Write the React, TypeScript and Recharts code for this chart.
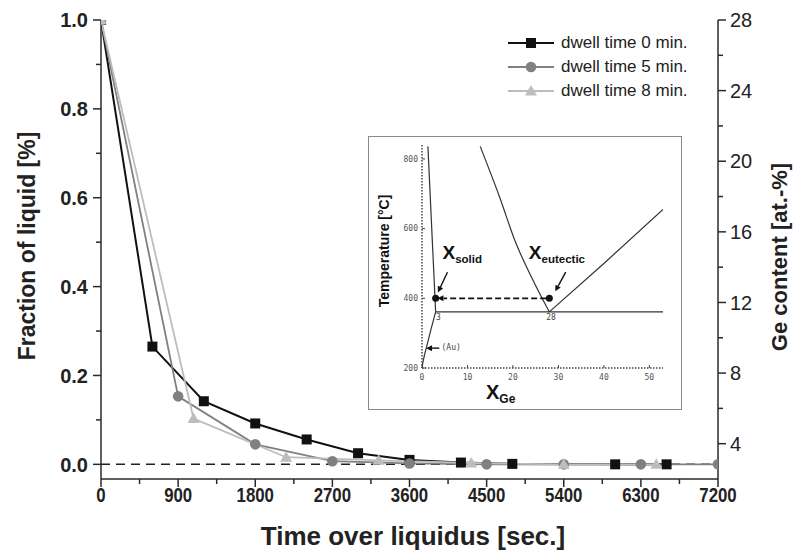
import React from "react";
import {
  LineChart, Line, XAxis, YAxis, ReferenceLine, ReferenceDot, Legend,
} from "recharts";

// main chart: fraction of liquid vs time over liquidus
const times0 = [0, 600, 1200, 1800, 2400, 3000, 3600, 4200, 4800, 6000, 6600];
const frac0 = [1.0, 0.265, 0.142, 0.092, 0.056, 0.025, 0.01, 0.004, 0.001, 0.0, 0.0];
const times5 = [0, 900, 1800, 2700, 3600, 4500, 5400, 6300, 7200];
const frac5 = [1.0, 0.153, 0.045, 0.007, 0.002, 0.0, 0.0, 0.0, 0.0];
const times8 = [0, 1080, 2160, 3240, 4320, 5400, 6480];
const frac8 = [1.0, 0.103, 0.016, 0.009, 0.003, 0.0, 0.0];

const xTicks = [0, 450, 900, 1350, 1800, 2250, 2700, 3150, 3600, 4050, 4500, 4950, 5400, 5850, 6300, 6750, 7200];
const leftTicks = [0, 0.1, 0.2, 0.3, 0.4, 0.5, 0.6, 0.7, 0.8, 0.9, 1.0];
const rightTicks = [4, 6, 8, 10, 12, 14, 16, 18, 20, 22, 24, 26, 28];

// inset: Au-Ge phase diagram (at.% Ge, temperature °C)
const auLiqX = [1.3, 3];
const auLiqT = [836, 361];
const solvusX = [0, 0.2, 0.5, 1, 2, 3];
const solvusT = [200, 216, 235, 260, 312, 361];
const auSideLiqX = [12.8, 17, 20.6, 24.3, 28];
const auSideLiqT = [836, 693, 560, 455, 361];
const geLiqX = [28, 40, 53];
const geLiqT = [361, 500, 655];
const eutecticX = [3, 53];
const eutecticT = [361, 361];
const insetXTicks = [0, 10, 20, 30, 40, 50];
const insetYTicks = [200, 400, 600, 800];

const SANS = '"Liberation Sans", Arial, sans-serif';
const MONO = '"DejaVu Sans Mono", monospace';
const AXIS = "#2a2a2a";

const rows = (xs: number[], ys: number[]) => xs.map((x, i) => ({ x, y: ys[i] }));

const SERIES = [
  { name: "dwell time 0 min.", color: "#111111", shape: "square", width: 2, data: rows(times0, frac0) },
  { name: "dwell time 5 min.", color: "#808080", shape: "circle", width: 1.8, data: rows(times5, frac5) },
  { name: "dwell time 8 min.", color: "#bdbdbd", shape: "triangle", width: 1.8, data: rows(times8, frac8) },
];

const Marker = ({ shape, cx, cy, color }: any) => {
  if (cx == null || cy == null) return null;
  if (shape === "square") return <rect x={cx - 5} y={cy - 5} width={10} height={10} fill={color} />;
  if (shape === "circle") return <circle cx={cx} cy={cy} r={5.3} fill={color} />;
  return <polygon points={`${cx},${cy - 6} ${cx + 6},${cy + 4.5} ${cx - 6},${cy + 4.5}`} fill={color} />;
};

const BottomTick = ({ x, y, payload }: any) => {
  const major = payload.value % 900 === 0;
  return (
    <g>
      <line x1={x} y1={y} x2={x} y2={y + (major ? 8 : 5)} stroke={AXIS} strokeWidth={1.5} />
      {major && (
        <text transform={`translate(${x} ${y + 23}) scale(0.8 1)`} textAnchor="middle" fontFamily={SANS}
          fontWeight="bold" fontSize={21} fill="#222">
          {payload.value}
        </text>
      )}
    </g>
  );
};

const TopTick = ({ x, y, payload }: any) => {
  const major = payload.value % 900 === 0;
  return <line x1={x} y1={y} x2={x} y2={y + (major ? 8 : 5)} stroke={AXIS} strokeWidth={1.5} />;
};

const LeftTick = ({ x, y, payload }: any) => {
  const major = Math.round(payload.value * 10) % 2 === 0;
  return (
    <g>
      <line x1={x - (major ? 8 : 5)} y1={y} x2={x} y2={y} stroke={AXIS} strokeWidth={1.5} />
      {major && (
        <text x={x - 13} y={y} dy="0.36em" textAnchor="end" fontFamily={SANS} fontWeight="bold" fontSize={20} fill="#222">
          {payload.value.toFixed(1)}
        </text>
      )}
    </g>
  );
};

const RightTick = ({ x, y, payload }: any) => {
  const major = payload.value % 4 === 0;
  return (
    <g>
      <line x1={x} y1={y} x2={x + (major ? 8 : 5)} y2={y} stroke={AXIS} strokeWidth={1.5} />
      {major && (
        <text x={x + 12} y={y} dy="0.36em" textAnchor="start" fontFamily={SANS} fontSize={20} fill="#222">
          {payload.value}
        </text>
      )}
    </g>
  );
};

const renderLegend = () => (
  <div style={{ fontFamily: SANS, fontSize: 17, color: "#222" }}>
    {SERIES.map((s) => (
      <div key={s.name} style={{ display: "flex", alignItems: "center", height: 24 }}>
        <svg width={52} height={20} style={{ marginRight: 3 }}>
          <line x1={2} y1={10} x2={48} y2={10} stroke={s.color} strokeWidth={s.width} />
          <Marker shape={s.shape} cx={25} cy={10} color={s.color} />
        </svg>
        <span>{s.name}</span>
      </div>
    ))}
  </div>
);

// inset ticks
const InsetBottomTick = ({ x, y, payload }: any) => (
  <g>
    <line x1={x} y1={y} x2={x} y2={y - 3} stroke="#444" strokeWidth={1} />
    <text x={x} y={y + 12} textAnchor="middle" fontFamily={MONO} fontSize={8} fill="#555">
      {payload.value}
    </text>
  </g>
);

const InsetLeftTick = ({ x, y, payload }: any) => (
  <g>
    <line x1={x} y1={y} x2={x + 3} y2={y} stroke="#444" strokeWidth={1} />
    <text x={x - 4} y={y} dy="0.35em" textAnchor="end" fontFamily={MONO} fontSize={8} fill="#555">
      {payload.value}
    </text>
  </g>
);

const Arrow = ({ x1, y1, x2, y2, dashed }: any) => {
  const a = Math.atan2(y2 - y1, x2 - x1);
  const L = 6, W = 3;
  const bx = x2 - L * Math.cos(a), by = y2 - L * Math.sin(a);
  const px = -Math.sin(a) * W, py = Math.cos(a) * W;
  return (
    <g>
      <line x1={x1} y1={y1} x2={bx} y2={by} stroke="#111" strokeWidth={dashed ? 1.8 : 1.4} strokeDasharray={dashed ? "6 3" : undefined} />
      <polygon points={`${x2},${y2} ${bx + px},${by + py} ${bx - px},${by - py}`} fill="#111" />
    </g>
  );
};

const XLabel = ({ cx, cy, sub }: any) => (
  <text x={cx} y={cy} fontFamily={SANS} fontWeight="bold" fill="#111">
    <tspan fontSize={19}>X</tspan>
    <tspan fontSize={11.5} dy={4}>{sub}</tspan>
  </text>
);

const SmallText = ({ cx, cy, text }: any) => (
  <text x={cx} y={cy} fontFamily={MONO} fontSize={8} fill="#444">{text}</text>
);

const Inset = () => (
  <div
    style={{
      position: "absolute", left: 368, top: 136, width: 314, height: 274,
      boxSizing: "border-box", border: "1.5px solid #8a8a8a", background: "#fff",
    }}
  >
    <LineChart width={311} height={271} margin={{ top: 8, right: 17, bottom: 0, left: 0 }}>
      <XAxis
        dataKey="x" type="number" domain={[0, 53]} allowDataOverflow ticks={insetXTicks} interval={0}
        height={40} tickSize={0} tickMargin={0} tick={InsetBottomTick} tickLine={false}
        axisLine={{ stroke: "#444", strokeWidth: 1.5, strokeDasharray: "1.5 1.5" }}
        label={{
          content: ({ viewBox }: any) => (
            <text x={(viewBox?.x ?? 53) + 64} y={(viewBox?.y ?? 231) + 31} fontFamily={SANS} fontWeight="bold" fill="#111">
              <tspan fontSize={20}>X</tspan>
              <tspan fontSize={12} dy={4}>Ge</tspan>
            </text>
          ),
        }}
      />
      <YAxis
        dataKey="y" type="number" domain={[200, 840]} allowDataOverflow ticks={insetYTicks} interval={0}
        width={53} tickSize={0} tickMargin={0} tick={InsetLeftTick} tickLine={false}
        axisLine={{ stroke: "#444", strokeWidth: 1.5, strokeDasharray: "1.5 1.5" }}
        label={{
          content: () => (
            <text x={15} y={114} transform="rotate(-90 15 114)" textAnchor="middle" dominantBaseline="central"
              fontFamily={SANS} fontWeight="bold" fontSize={14} fill="#111">
              Temperature [°C]
            </text>
          ),
        }}
      />
      <Line data={rows(eutecticX, eutecticT)} dataKey="y" stroke="#333" strokeWidth={1.2} dot={false} isAnimationActive={false} />
      <Line data={rows(auLiqX, auLiqT)} dataKey="y" stroke="#333" strokeWidth={1.2} dot={false} isAnimationActive={false} />
      <Line data={rows(solvusX, solvusT)} dataKey="y" type="monotone" stroke="#333" strokeWidth={1.2} dot={false} isAnimationActive={false} />
      <Line data={rows(auSideLiqX, auSideLiqT)} dataKey="y" type="monotone" stroke="#333" strokeWidth={1.2} dot={false} isAnimationActive={false} />
      <Line data={rows(geLiqX, geLiqT)} dataKey="y" stroke="#333" strokeWidth={1.2} dot={false} isAnimationActive={false} />
      <ReferenceLine segment={[{ x: 27.3, y: 400 }, { x: 3.4, y: 400 }]} shape={(p: any) => <Arrow {...p} dashed />} />
      <ReferenceLine segment={[{ x: 5.6, y: 475 }, { x: 3.5, y: 417 }]} shape={(p: any) => <Arrow {...p} />} />
      <ReferenceLine segment={[{ x: 31.6, y: 475 }, { x: 29.3, y: 420 }]} shape={(p: any) => <Arrow {...p} />} />
      <ReferenceLine segment={[{ x: 3.8, y: 257 }, { x: 0.9, y: 257 }]} shape={(p: any) => <Arrow {...p} />} />
      <ReferenceDot x={3} y={400} r={3.5} fill="#111" stroke="none" />
      <ReferenceDot x={28} y={400} r={3.5} fill="#111" stroke="none" />
      <ReferenceDot x={4.5} y={512} r={0} shape={(p: any) => <XLabel {...p} sub="solid" />} />
      <ReferenceDot x={23.5} y={512} r={0} shape={(p: any) => <XLabel {...p} sub="eutectic" />} />
      <ReferenceDot x={3.1} y={337} r={0} shape={(p: any) => <SmallText {...p} text="3" />} />
      <ReferenceDot x={27.3} y={337} r={0} shape={(p: any) => <SmallText {...p} text="28" />} />
      <ReferenceDot x={4.3} y={252} r={0} shape={(p: any) => <SmallText {...p} text="(Au)" />} />
    </LineChart>
  </div>
);

export default function App() {
  return (
    <div style={{ position: "absolute", left: 0, top: 0, width: 793, height: 556, background: "#fff" }}>
      <LineChart width={793} height={556} margin={{ top: 20, right: 0, bottom: 0, left: 0 }}>
        <XAxis
          xAxisId="b" dataKey="x" type="number" domain={[0, 7200]} allowDataOverflow ticks={xTicks} interval={0}
          height={77} tickSize={0} tickMargin={0} tick={BottomTick} tickLine={false}
          axisLine={{ stroke: AXIS, strokeWidth: 1.5 }}
          label={{
            content: () => (
              <text x={413} y={545} textAnchor="middle" fontFamily={SANS} fontWeight="bold" fontSize={26} fill="#222">
                Time over liquidus [sec.]
              </text>
            ),
          }}
        />
        <XAxis
          xAxisId="t" orientation="top" dataKey="x" type="number" domain={[0, 7200]} allowDataOverflow ticks={xTicks}
          interval={0} height={0} tickSize={0} tickMargin={0} tick={TopTick} tickLine={false}
          axisLine={{ stroke: AXIS, strokeWidth: 1.5 }}
        />
        <YAxis
          yAxisId="l" type="number" domain={[-0.033, 1.0]} allowDataOverflow ticks={leftTicks} interval={0}
          width={101} tickSize={0} tickMargin={0} tick={LeftTick} tickLine={false}
          axisLine={{ stroke: AXIS, strokeWidth: 1.5 }}
          label={{
            content: () => (
              <text x={27} y={246} transform="rotate(-90 27 246)" textAnchor="middle" dominantBaseline="central"
                fontFamily={SANS} fontWeight="bold" fontSize={23} fill="#222">
                Fraction of liquid [%]
              </text>
            ),
          }}
        />
        <YAxis
          yAxisId="r" orientation="right" type="number" domain={[2, 28]} allowDataOverflow ticks={rightTicks} interval={0}
          width={75} tickSize={0} tickMargin={0} tick={RightTick} tickLine={false}
          axisLine={{ stroke: AXIS, strokeWidth: 1.5 }}
          label={{
            content: () => (
              <text x={779} y={257} transform="rotate(-90 779 257)" textAnchor="middle" dominantBaseline="central"
                fontFamily={SANS} fontWeight="bold" fontSize={22} fill="#222">
                Ge content [at.-%]
              </text>
            ),
          }}
        />
        <ReferenceLine xAxisId="b" yAxisId="l" y={0} stroke="#222" strokeWidth={1.5} strokeDasharray="9 6" />
        {SERIES.map((s) => (
          <Line
            key={s.name}
            xAxisId="b"
            yAxisId="l"
            name={s.name}
            data={s.data}
            dataKey="y"
            type="linear"
            stroke={s.color}
            strokeWidth={s.width}
            isAnimationActive={false}
            dot={(p: any) => <Marker key={`${s.name}-${p.index}`} shape={s.shape} cx={p.cx} cy={p.cy} color={s.color} />}
            activeDot={false}
          />
        ))}
        <Legend
          layout="vertical" align="center" verticalAlign="middle" content={renderLegend}
          wrapperStyle={{ left: 506, top: 31, width: 230 }}
        />
      </LineChart>
      <Inset />
    </div>
  );
}
